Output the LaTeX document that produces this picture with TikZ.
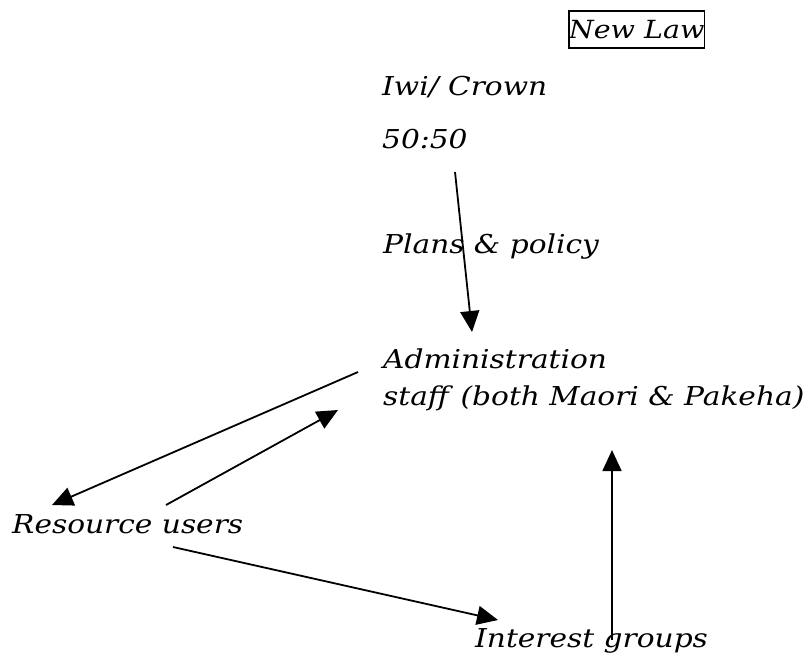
\documentclass[tikz,border=0pt]{standalone}
\usepackage{fontspec}
\newfontfamily\hand{DejaVu Serif}[FakeStretch=1.14]
\usetikzlibrary{arrows.meta}

\begin{document}
\begin{tikzpicture}[x=1pt,y=-1pt]
  \tikzset{
    lbl/.style={anchor=base west, inner sep=0pt,
      font=\hand\itshape\fontsize{26}{30}\selectfont},
    arr/.style={line width=1.8pt, -{Triangle[length=21pt,width=19pt]}},
    lawbox/.style={draw, line width=1.8pt, anchor=north west, inner sep=0pt,
      minimum width=130pt, minimum height=37pt,
      font=\hand\itshape\fontsize{25}{28}\selectfont}
  }
  \useasboundingbox (0,0) rectangle (810,657);

  % labels
  \node[lawbox] (law) at (568,10) {New Law};
  \node[lbl] (iwi)   at (382,95)  {Iwi/ Crown};
  \node[lbl] (ratio) at (382,148) {50:50};
  \node[lbl] (plans) at (383,253) {Plans \& policy};
  \node[lbl] (admin) at (383,368) {Administration};
  \node[lbl] (staff) at (383,405) {staff\hspace{0.45em}(both Maori \& Pakeha)};
  \node[lbl] (res)   at (12,533)  {Resource users};
  \node[lbl] (int)   at (475,647) {Interest groups};

  % connector end points
  \coordinate (ratioOut) at (455,172);
  \coordinate (adminIn)  at (472,332);
  \coordinate (adminOut) at (358,372);
  \coordinate (resIn)    at (52,505);
  \coordinate (resOut)   at (166,505);
  \coordinate (staffIn)  at (338,410);
  \coordinate (resOut2)  at (173,547);
  \coordinate (intIn)    at (498,620);
  \coordinate (intOut)   at (612,640);
  \coordinate (staffIn2) at (612,450);

  % connectors
  \draw[arr] (ratioOut) -- (adminIn);
  \draw[arr] (adminOut) -- (resIn);
  \draw[arr] (resOut) -- (staffIn);
  \draw[arr] (resOut2) -- (intIn);
  \draw[arr] (intOut) -- (staffIn2);
\end{tikzpicture}
\end{document}
